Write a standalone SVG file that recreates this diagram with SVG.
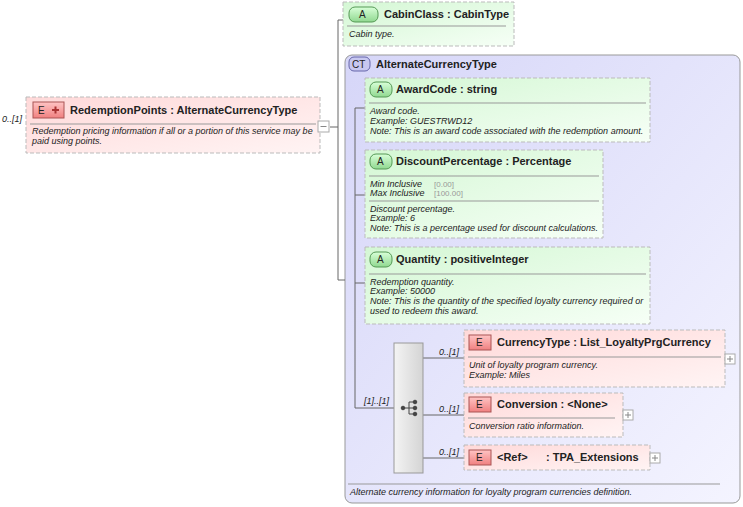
<svg xmlns="http://www.w3.org/2000/svg" width="743" height="507" viewBox="0 0 743 507">
<defs>
<linearGradient id="gE" x1="0" y1="0" x2="1" y2="1"><stop offset="0" stop-color="#ffd9d9"/><stop offset="1" stop-color="#fff4f4"/></linearGradient>
<linearGradient id="gA" x1="0" y1="0" x2="1" y2="1"><stop offset="0" stop-color="#d4f7d4"/><stop offset="1" stop-color="#f6fff6"/></linearGradient>
<linearGradient id="gCT" x1="0" y1="0" x2="1" y2="1"><stop offset="0" stop-color="#d6d6f8"/><stop offset="1" stop-color="#f4f4ff"/></linearGradient>
<linearGradient id="gS" x1="0" y1="0" x2="1" y2="0"><stop offset="0" stop-color="#f4f4f4"/><stop offset="1" stop-color="#d4d4d4"/></linearGradient>
<linearGradient id="gBE" x1="0" y1="0" x2="0" y2="1"><stop offset="0" stop-color="#ffc4c4"/><stop offset="1" stop-color="#f08080"/></linearGradient>
<linearGradient id="gBA" x1="0" y1="0" x2="0" y2="1"><stop offset="0" stop-color="#d8ffd8"/><stop offset="1" stop-color="#90d890"/></linearGradient>
</defs>
<style>
text{font-family:"Liberation Sans",Arial,sans-serif;fill:#222}
.t{font-size:11px;font-weight:bold}
.d{font-size:9px;font-style:italic}
.g{font-size:8px;fill:#999}
.c{font-size:9px;font-style:italic}
.e{fill:url(#gE);stroke:#bbb;stroke-dasharray:4,2}
.a{fill:url(#gA);stroke:#bbb;stroke-dasharray:4,2}
.be{fill:url(#gBE);stroke:#a55}
.ba{fill:url(#gBA);stroke:#595}
.sep{stroke:#999;stroke-width:1}
.ln{stroke:#666;fill:none}
.pm{fill:#fff;stroke:#aaa}
</style>
<g id="ct">
<rect x="345" y="55" width="395" height="448" rx="7" fill="url(#gCT)" stroke="#999"/>
<rect x="349" y="57" width="21" height="14" rx="5" fill="#c8c8f0" stroke="#66a"/>
<text x="352" y="68" style="font-size:10px">CT</text>
<text x="376" y="68" class="t">AlternateCurrencyType</text>
<line x1="348" y1="484" x2="720" y2="484" class="sep"/>
<text x="350" y="495" class="d">Alternate currency information for loyalty program currencies definition.</text>
</g>
<g id="connectors" class="ln">
<path d="M330 127H338M338 20V280M338 20H343M338 280H345"/>
<path d="M355 108V408M355 108H365M355 195H365M355 283H365M355 408H394"/>
<path d="M423 358H464M423 415H464M423 458H464"/>
</g>
<g id="labels">
<text x="2" y="122" class="c">0..[1]</text>
<text x="364" y="404" class="c">[1]..[1]</text>
<text x="439" y="355" class="c">0..[1]</text>
<text x="439" y="412" class="c">0..[1]</text>
<text x="439" y="455" class="c">0..[1]</text>
</g>
<g id="redemptionPoints">
<rect x="26" y="97" width="294" height="56" class="e"/>
<rect x="33" y="102" width="31" height="16" class="be"/>
<text x="38" y="114" style="font-size:10px">E</text>
<path d="M52 110h7M55.5 106.5v7" stroke="#a33" stroke-width="2"/>
<text x="70" y="114" class="t">RedemptionPoints  : AlternateCurrencyType</text>
<line x1="30" y1="124" x2="316" y2="124" class="sep"/>
<text x="32" y="134" class="d">Redemption pricing information if all or a portion of this service may be</text>
<text x="32" y="144" class="d">paid using points.</text>
<rect x="318" y="121" width="11" height="11" class="pm"/>
<path d="M320.5 126.5h6" stroke="#888"/>
</g>
<g id="cabinClass">
<rect x="343" y="2" width="171" height="44" class="a"/>
<rect x="349" y="7" width="29" height="15" rx="6" class="ba"/>
<text x="359" y="18" style="font-size:10px">A</text>
<text x="384" y="18" class="t">CabinClass : CabinType</text>
<line x1="347" y1="26" x2="506" y2="26" class="sep"/>
<text x="349" y="37" class="d">Cabin type.</text>
</g>
<g id="awardCode">
<rect x="365" y="78" width="285" height="64" class="a"/>
<rect x="370" y="82" width="22" height="15" rx="6" class="ba"/>
<text x="377" y="93" style="font-size:10px">A</text>
<text x="396" y="93" class="t">AwardCode : string</text>
<line x1="369" y1="103" x2="646" y2="103" class="sep"/>
<text x="370" y="114" class="d">Award code.</text>
<text x="370" y="124" class="d">Example: GUESTRWD12</text>
<text x="370" y="134" class="d">Note: This is an award code associated with the redemption amount.</text>
</g>
<g id="discountPercentage">
<rect x="365" y="150" width="238" height="88" class="a"/>
<rect x="370" y="154" width="22" height="15" rx="6" class="ba"/>
<text x="377" y="165" style="font-size:10px">A</text>
<text x="396" y="165" class="t">DiscountPercentage : Percentage</text>
<line x1="369" y1="176" x2="599" y2="176" class="sep"/>
<text x="370" y="187" class="d">Min Inclusive</text>
<text x="434" y="187" class="g">[0.00]</text>
<text x="370" y="196" class="d">Max Inclusive</text>
<text x="434" y="196" class="g">[100.00]</text>
<line x1="369" y1="201" x2="599" y2="201" class="sep"/>
<text x="370" y="212" class="d">Discount percentage.</text>
<text x="370" y="221" class="d">Example: 6</text>
<text x="370" y="231" class="d">Note: This is a percentage used for discount calculations.</text>
</g>
<g id="quantity">
<rect x="365" y="247" width="285" height="77" class="a"/>
<rect x="370" y="252" width="22" height="15" rx="6" class="ba"/>
<text x="377" y="263" style="font-size:10px">A</text>
<text x="396" y="263" class="t">Quantity  : positiveInteger</text>
<line x1="369" y1="274" x2="646" y2="274" class="sep"/>
<text x="370" y="285" class="d">Redemption quantity.</text>
<text x="370" y="294" class="d">Example: 50000</text>
<text x="370" y="304" class="d">Note: This is the quantity of the specified loyalty currency required or</text>
<text x="370" y="314" class="d">used to redeem this award.</text>
</g>
<g id="sequence">
<rect x="394" y="343" width="29" height="130" fill="url(#gS)" stroke="#999"/>
<g fill="#444" stroke="#444">
<circle cx="403" cy="408" r="1.8"/>
<path d="M404 408H409M409 402V414M409 402H414M409 408H414M409 414H414" fill="none"/>
<circle cx="415" cy="402" r="1.8"/><circle cx="415" cy="408" r="1.8"/><circle cx="415" cy="414" r="1.8"/>
</g>
</g>
<g id="currencyType">
<rect x="464" y="330" width="261" height="57" class="e"/>
<rect x="469" y="335" width="22" height="15" class="be"/>
<text x="476" y="346" style="font-size:10px">E</text>
<text x="497" y="346" class="t">CurrencyType : List_LoyaltyPrgCurrency</text>
<line x1="468" y1="357" x2="721" y2="357" class="sep"/>
<text x="469" y="368" class="d">Unit of loyalty program currency.</text>
<text x="469" y="378" class="d">Example: Miles</text>
<rect x="725" y="354" width="10" height="10" class="pm"/>
<path d="M727 359h6M730 356v6" stroke="#888"/>
</g>
<g id="conversion">
<rect x="464" y="393" width="159" height="44" class="e"/>
<rect x="469" y="397" width="22" height="15" class="be"/>
<text x="476" y="408" style="font-size:10px">E</text>
<text x="497" y="408" class="t">Conversion : &lt;None&gt;</text>
<line x1="468" y1="418" x2="615" y2="418" class="sep"/>
<text x="469" y="429" class="d">Conversion ratio information.</text>
<rect x="623" y="410" width="10" height="10" class="pm"/>
<path d="M625 415h6M628 412v6" stroke="#888"/>
</g>
<g id="tpaExtensions">
<rect x="464" y="445" width="186" height="25" class="e"/>
<rect x="469" y="450" width="22" height="15" class="be"/>
<text x="476" y="461" style="font-size:10px">E</text>
<text x="497" y="461" class="t">&lt;Ref&gt;</text>
<text x="546" y="461" class="t">: TPA_Extensions</text>
<rect x="650" y="453" width="10" height="10" class="pm"/>
<path d="M652 458h6M655 455v6" stroke="#888"/>
</g>
</svg>
